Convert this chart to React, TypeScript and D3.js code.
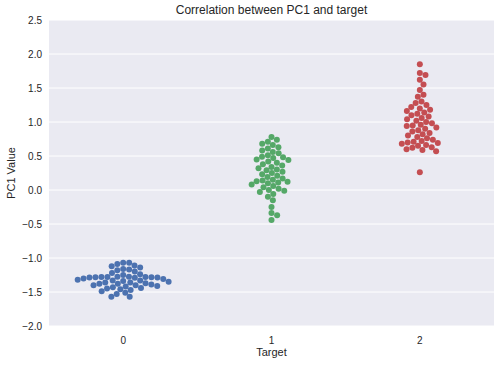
import React, { useEffect, useRef } from 'react';
import * as d3 from 'd3';

const categories = ['0', '1', '2'];
const colors = ['#4C72B0', '#55A868', '#C44E52'];
const yTicks = [-2.0, -1.5, -1.0, -0.5, 0.0, 0.5, 1.0, 1.5, 2.0, 2.5];

const target0 = [
  -1.07, -1.07, -1.09, -1.11, -1.12, -1.14, -1.16, -1.17, -1.18, -1.20, -1.22, -1.24, -1.25,
  -1.274, -1.276, -1.278, -1.28, -1.28, -1.282, -1.284, -1.286, -1.288, -1.29,
  -1.30, -1.31, -1.32, -1.33, -1.33, -1.34, -1.35, -1.36, -1.36, -1.37, -1.38, -1.38, -1.39, -1.40, -1.40,
  -1.41, -1.42, -1.43, -1.44, -1.45, -1.46, -1.47, -1.49, -1.51, -1.53,
  -1.57, -1.57,
];
const target1 = [
  0.78, 0.74, 0.71, 0.68, 0.66, 0.63, 0.61, 0.58, 0.56, 0.54, 0.51, 0.49, 0.48, 0.47, 0.45, 0.44, 0.42,
  0.40, 0.38, 0.36, 0.34, 0.32, 0.30, 0.29, 0.27, 0.25, 0.23, 0.21, 0.19, 0.17, 0.15, 0.14, 0.13, 0.12,
  0.11, 0.10, 0.08, 0.06, 0.04, 0.02, 0.00, -0.01, -0.03, -0.06, -0.10, -0.15, -0.25, -0.34, -0.37, -0.44,
];
const target2 = [
  1.85, 1.72, 1.69, 1.62, 1.55, 1.47, 1.40, 1.37, 1.30, 1.28, 1.25, 1.22, 1.20, 1.18, 1.16, 1.14, 1.12,
  1.10, 1.08, 1.06, 1.04, 1.02, 1.00, 0.98, 0.96, 0.95, 0.94, 0.92, 0.90, 0.88, 0.86, 0.84, 0.82, 0.80,
  0.78, 0.76, 0.74, 0.72, 0.71, 0.70, 0.69, 0.68, 0.66, 0.65, 0.63, 0.62, 0.60, 0.59, 0.57, 0.26,
];
const series = [target0, target1, target2];

// simple beeswarm: place each point as close to the center as possible
const swarm = (ys: number[], d: number) => {
  const order = ys.map((y, i) => i).sort((a, b) => ys[a] - ys[b]);
  const placed: { x: number; y: number }[] = [];
  order.forEach(i => {
    const y = ys[i];
    const cands = [0];
    placed.forEach(p => {
      const dy = Math.abs(p.y - y);
      if (dy < d) {
        const dx = Math.sqrt(d * d - dy * dy);
        cands.push(p.x + dx, p.x - dx);
      }
    });
    cands.sort((a, b) => Math.abs(a) - Math.abs(b));
    const x = cands.find(c => placed.every(p => (p.x - c) ** 2 + (p.y - y) ** 2 >= d * d - 0.01)) ?? 0;
    placed.push({ x, y });
  });
  return placed;
};

const App = () => {
  const ref = useRef<SVGSVGElement>(null);

  useEffect(() => {
    const W = 502, H = 365;
    const margin = { top: 20, right: 8, bottom: 39, left: 49 };
    const width = W - margin.left - margin.right;
    const height = H - margin.top - margin.bottom;

    const svg = d3.select(ref.current).attr('width', W).attr('height', H);
    svg.selectAll('*').remove();
    const g = svg.append('g').attr('transform', `translate(${margin.left},${margin.top})`);

    const x = d3.scaleBand().domain(categories).range([0, width]);
    const y = d3.scaleLinear().domain([-2, 2.5]).range([height, 0]);

    g.append('rect').attr('width', width).attr('height', height).attr('fill', '#EAEAF2');

    g.selectAll('line.grid')
      .data(yTicks)
      .enter()
      .append('line')
      .attr('x1', 0)
      .attr('x2', width)
      .attr('y1', d => y(d))
      .attr('y2', d => y(d))
      .attr('stroke', '#fff')
      .attr('stroke-width', 1);

    const font = 'Liberation Sans, Arial, sans-serif';

    g.selectAll('text.ytick')
      .data(yTicks)
      .enter()
      .append('text')
      .attr('x', -7)
      .attr('y', d => y(d))
      .attr('dy', '0.35em')
      .attr('text-anchor', 'end')
      .attr('font-family', font)
      .attr('font-size', 10)
      .attr('fill', '#262626')
      .text(d => d3.format('.1f')(d).replace('-', '\u2212'));

    g.selectAll('text.xtick')
      .data(categories)
      .enter()
      .append('text')
      .attr('x', d => x(d)! + x.bandwidth() / 2)
      .attr('y', height + 18)
      .attr('text-anchor', 'middle')
      .attr('font-family', font)
      .attr('font-size', 10)
      .attr('fill', '#262626')
      .text(d => d);

    const r = 3;
    series.forEach((vals, k) => {
      const cx = x(categories[k])! + x.bandwidth() / 2;
      const pts = swarm(vals.map(v => y(v)), 2 * r);
      g.append('g')
        .selectAll('circle')
        .data(pts)
        .enter()
        .append('circle')
        .attr('cx', p => cx + p.x)
        .attr('cy', p => p.y)
        .attr('r', r)
        .attr('fill', colors[k]);
    });

    svg.append('text')
      .attr('x', margin.left + width / 2)
      .attr('y', 14)
      .attr('text-anchor', 'middle')
      .attr('font-family', font)
      .attr('font-size', 12)
      .attr('fill', '#262626')
      .text('Correlation between PC1 and target');

    svg.append('text')
      .attr('x', margin.left + width / 2)
      .attr('y', 356)
      .attr('text-anchor', 'middle')
      .attr('font-family', font)
      .attr('font-size', 11)
      .attr('fill', '#262626')
      .text('Target');

    svg.append('text')
      .attr('transform', `translate(15,${margin.top + height / 2}) rotate(-90)`)
      .attr('text-anchor', 'middle')
      .attr('font-family', font)
      .attr('font-size', 11)
      .attr('fill', '#262626')
      .text('PC1 Value');
  }, []);

  return <svg ref={ref} style={{ position: 'absolute', left: 0, top: 0 }}></svg>;
};

export default App;
